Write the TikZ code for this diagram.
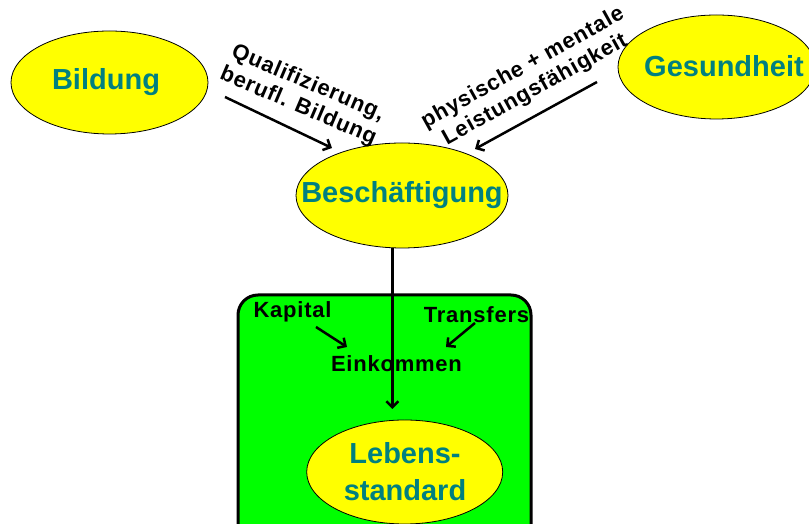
\documentclass[tikz,border=0pt]{standalone}
\usepackage{fontspec}
\setmainfont{Liberation Sans}
\usetikzlibrary{shapes.geometric,arrows.meta}
\definecolor{tealtext}{RGB}{0,128,128}
\definecolor{boxgreen}{RGB}{0,255,0}
\definecolor{blobyellow}{RGB}{255,255,0}
\tikzset{
  blob/.style={ellipse, draw=black, line width=0.8pt, fill=blobyellow, inner sep=0pt},
  maintext/.style={text=tealtext, font=\bfseries\fontsize{29}{37}\selectfont, inner sep=0pt, align=center},
  smalltext/.style={text=black, font=\bfseries\fontsize{22}{25}\selectfont\addfontfeature{LetterSpace=3.5}, inner sep=0pt, align=center},
  arr/.style={line width=2.5pt, -{Straight Barb[length=6pt,width=12pt]}},
  greenbox/.style={draw=black, line width=3pt, fill=boxgreen, rounded corners=20pt}
}
\begin{document}
\begin{tikzpicture}[x=1pt,y=1pt]
\useasboundingbox (0,0) rectangle (809,524);
\clip (0,0) rectangle (809,524);
\fill[white] (0,0) rectangle (809,524);
% green box
\draw[greenbox] (238,-30) rectangle (531,229);
% ellipses
\node[blob, minimum width=197pt, minimum height=103pt] (bild) at (109.5,441.5) {};
\node[maintext] (bildT) at (106,441.5) {Bildung};
\node[blob, minimum width=197pt, minimum height=104pt] (gesu) at (716.5,457) {};
\node[maintext] (gesuT) at (724,458) {Gesundheit};
\node[blob, minimum width=212pt, minimum height=105pt] (besch) at (402,328.5) {};
\node[maintext] (beschT) at (402,328.5) {Beschäftigung};
\node[blob, minimum width=196pt, minimum height=104pt] (leben) at (404.7,52) {};
\node[maintext] (lebenT) at (405,52) {Lebens-\\standard};
% labels
\node[smalltext, rotate=-23] (qual) at (303,429) {Qualifizierung,\\berufl. Bildung};
\node[smalltext, rotate=29] (phys) at (529,445) {physische + mentale\\Leistungsfähigkeit};
\node[smalltext] (kap) at (292.5,212) {Kapital};
\node[smalltext] (trans) at (476.5,209) {Transfers};
\node[smalltext] (eink) at (396.5,160) {Einkommen};
% connector coordinates
\coordinate (a1s) at (225,427);
\coordinate (a1e) at (332,376);
\coordinate (a2s) at (597,442);
\coordinate (a2e) at (475,375);
\coordinate (vs) at (392.3,276);
\coordinate (ve) at (392.3,115);
\coordinate (ks) at (316,197);
\coordinate (ke) at (347,177);
\coordinate (ts) at (475,201);
\coordinate (te) at (446,177);
% arrows
\draw[arr] (a1s) -- (a1e);
\draw[arr] (a2s) -- (a2e);
\draw[arr] (vs) -- (ve);
\draw[arr] (ks) -- (ke);
\draw[arr] (ts) -- (te);
\end{tikzpicture}
\end{document}
